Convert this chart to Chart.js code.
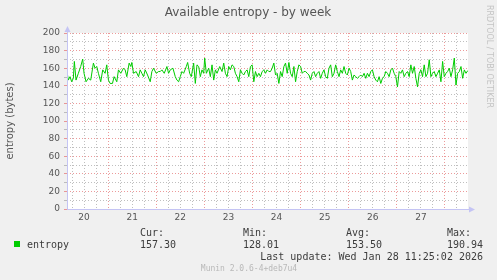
<!DOCTYPE html>
<html>
<head>
<meta charset="utf-8">
<script src="https://cdn.jsdelivr.net/npm/chart.js@4.4.1/dist/chart.umd.min.js"></script>
<style>
html,body{margin:0;padding:0;background:#f0f0f0;}
canvas{display:block;}
</style>
</head>
<body>
<canvas id="c" width="497" height="280"></canvas>
<script>
// ---- data (hours since Jan 20 00:00, bytes) ----
const hours = [
3.5,4.17,5.0,5.83,6.67,7.17,8.0,9.17,10.33,11.33,12.0,13.0,14.17,15.33,16.67,17.5,18.33,19.17,20.33,21.33,
22.5,23.33,24.17,25.0,26.17,27.0,28.33,29.17,30.33,31.67,32.5,33.33,34.5,35.33,35.83,36.67,38.0,39.17,40.0,40.83,
41.67,42.5,43.67,45.0,45.83,46.67,48.0,49.17,50.0,50.83,52.0,53.33,54.17,55.0,56.33,57.5,58.33,59.17,60.0,60.83,
61.67,63.0,63.67,64.67,65.5,66.67,67.5,68.33,69.17,70.0,70.83,71.67,72.17,73.0,74.17,75.0,75.83,76.67,77.5,78.33,
79.67,80.83,81.67,82.5,83.33,84.17,85.0,85.83,86.67,87.5,88.33,89.17,90.0,90.83,91.67,92.5,93.33,94.17,95.0,95.83,
96.67,97.5,98.33,99.17,100.0,100.83,101.67,102.5,103.33,104.17,105.0,105.83,106.67,107.5,108.33,109.17,110.0,110.83,111.67,112.5,
113.33,114.17,115.0,115.83,116.67,117.5,118.33,119.17,120.0,120.83,121.67,122.5,123.33,124.17,125.0,125.83,126.67,127.5,128.33,129.17,
130.0,130.83,131.67,132.5,133.33,134.17,135.0,135.83,136.67,137.5,138.33,139.17,140.0,140.83,141.67,142.5,143.33,144.17,145.0,145.83,
146.67,147.5,148.33,149.17,150.0,150.83,151.67,152.5,153.33,154.17,155.0,155.83,156.67,157.5,158.33,159.17,160.0,160.83,161.67,162.5,
163.33,164.17,165.0,165.83,166.67,167.5,168.33,169.17,170.0,170.83,171.67,172.5,173.33,174.17,175.0,175.83,176.67,177.5,178.33,179.17,
180.0,180.83,181.67,182.5,183.33,184.17,185.0,185.83,186.67,187.5,188.33,189.17,190.0,190.83,191.67,192.5,193.33,194.17,195.0,195.83,
196.67,197.5,198.33,199.17,200.0,200.83,201.67,202.5,203.4
];
const entropy = [
156.2,146.5,150.4,144.6,148.5,167.7,146.5,154.2,161.9,170.4,154.2,144.6,148.5,146.5,165.8,160.0,161.9,154.2,144.6,158.1,
154.2,163.8,146.5,142.7,142.7,150.4,144.6,158.1,154.2,160.0,158.1,150.4,165.8,161.9,166.5,154.2,156.2,150.4,158.1,154.2,
150.4,158.1,152.3,144.6,156.2,160.0,154.2,156.2,156.2,158.1,154.2,161.9,154.2,158.1,160.0,150.4,146.5,144.6,150.4,156.2,
154.2,161.9,166.5,154.2,150.4,165.8,142.7,163.8,161.9,150.4,158.1,154.2,171.5,154.2,160.0,150.4,163.8,146.5,158.1,154.2,
161.9,156.2,165.8,154.2,150.4,161.9,158.1,163.8,161.9,154.2,150.4,144.6,158.1,154.2,152.3,156.2,158.1,150.4,161.9,163.8,
144.6,156.2,150.4,154.2,150.4,156.2,158.1,154.2,158.1,156.2,156.2,160.0,165.8,152.3,154.2,142.7,156.2,150.4,161.9,165.8,
154.2,166.5,154.2,150.4,161.9,144.6,156.2,163.8,161.9,154.2,156.2,156.2,154.2,152.3,146.5,154.2,156.2,150.4,154.2,156.2,
148.5,154.2,158.1,150.4,148.5,160.0,163.8,150.4,154.2,163.8,156.2,150.4,158.1,154.2,161.9,154.2,152.3,160.0,156.2,146.5,
152.3,150.4,148.5,150.4,152.3,150.4,154.2,148.5,154.2,150.4,156.2,158.1,150.4,146.5,144.6,150.4,142.7,148.5,150.4,156.2,
154.2,150.4,158.1,160.0,154.2,150.4,138.8,156.2,154.2,158.1,150.4,154.2,156.2,150.4,163.8,154.2,161.9,148.5,138.8,154.2,
158.1,150.4,163.8,150.4,154.2,169.6,150.4,154.2,156.2,150.4,154.2,158.1,144.6,167.7,150.4,154.2,156.2,160.0,150.4,158.1,
171.5,140.8,154.2,156.2,161.9,148.5,158.1,154.2,157.3
];
const dayLabels = ['20','21','22','23','24','25','26','27'];
const yTickLabels = ['0','20','40','60','80','100','120','140','160','180','200'];
const legendStats = { cur: '157.30', min: '128.01', avg: '153.50', max: '190.94' };
const titleText = 'Available entropy - by week';
const yAxisTitle = 'entropy (bytes)';
const lastUpdate = 'Last update: Wed Jan 28 11:25:02 2026';
const footer = 'Munin 2.0.6-4+deb7u4';
const sideText = 'RRDTOOL / TOBI OETIKER';

const GREEN = '#00cc00';
const RED_GRID = 'rgba(230,120,120,0.75)';
const GRAY_GRID = 'rgba(170,170,170,0.75)';
const AXIS = '#c4c4f4';
const TEXT = '#555555';

const points = hours.map((h, i) => ({ x: h, y: entropy[i] }));

const decor = {
  id: 'decor',
  beforeDraw(chart) {
    const { ctx, chartArea: a } = chart;
    ctx.save();
    ctx.fillStyle = '#f0f0f0';
    ctx.fillRect(0, 0, chart.width, chart.height);
    ctx.fillStyle = '#ffffff';
    ctx.fillRect(a.left, a.top, a.right - a.left, a.bottom - a.top);
    ctx.restore();
  },
  afterDraw(chart) {
    const { ctx, chartArea: a } = chart;
    ctx.save();
    // axes with arrows
    ctx.strokeStyle = AXIS; ctx.fillStyle = AXIS; ctx.lineWidth = 1;
    ctx.beginPath();
    ctx.moveTo(a.left + 0.5, a.bottom + 0.5); ctx.lineTo(a.left + 0.5, a.top - 4);
    ctx.moveTo(a.left, a.bottom + 0.5); ctx.lineTo(a.right + 4, a.bottom + 0.5);
    ctx.stroke();
    ctx.beginPath();
    ctx.moveTo(a.left - 2.5, a.top - 1); ctx.lineTo(a.left + 0.5, a.top - 7); ctx.lineTo(a.left + 3.5, a.top - 1); ctx.closePath(); ctx.fill();
    ctx.beginPath();
    ctx.moveTo(a.right + 1, a.bottom - 2.5); ctx.lineTo(a.right + 7, a.bottom + 0.5); ctx.lineTo(a.right + 1, a.bottom + 3.5); ctx.closePath(); ctx.fill();

    // title
    ctx.fillStyle = TEXT;
    ctx.font = '12px "DejaVu Sans"';
    ctx.textAlign = 'center'; ctx.textBaseline = 'middle';
    ctx.fillText(titleText, 248, 13);

    // y-axis title
    ctx.save();
    ctx.translate(10, 121);
    ctx.rotate(-Math.PI / 2);
    ctx.font = '10px "DejaVu Sans"';
    ctx.fillText(yAxisTitle, 0, 0);
    ctx.restore();

    // side text
    ctx.save();
    ctx.translate(489.5, 5);
    ctx.rotate(Math.PI / 2);
    ctx.fillStyle = '#c4c4c4';
    ctx.font = '8px "DejaVu Sans"';
    ctx.textAlign = 'left'; ctx.textBaseline = 'middle';
    ctx.fillText(sideText, 0, 0);
    ctx.restore();

    // legend
    ctx.fillStyle = GREEN;
    ctx.fillRect(14, 241, 6, 6);
    ctx.fillStyle = '#3c3c3c';
    ctx.font = '10px "DejaVu Sans Mono"';
    ctx.textAlign = 'left'; ctx.textBaseline = 'middle';
    ctx.fillText('entropy', 27, 245);
    ctx.fillText('Cur:', 140, 233); ctx.fillText(legendStats.cur, 140, 245);
    ctx.fillText('Min:', 243, 233); ctx.fillText(legendStats.min, 243, 245);
    ctx.fillText('Avg:', 346, 233); ctx.fillText(legendStats.avg, 346, 245);
    ctx.fillText('Max:', 447, 233); ctx.fillText(legendStats.max, 447, 245);
    ctx.textAlign = 'right';
    ctx.fillText(lastUpdate, 483, 257);
    ctx.textAlign = 'center';
    ctx.fillStyle = '#b8b8b8';
    ctx.font = '8px "DejaVu Sans Mono"';
    ctx.fillText(footer, 249, 269);
    ctx.restore();
  }
};

new Chart(document.getElementById('c'), {
  type: 'line',
  data: {
    datasets: [{
      data: points,
      borderColor: GREEN,
      borderWidth: 1,
      pointRadius: 0,
      tension: 0,
      fill: false
    }]
  },
  options: {
    responsive: false,
    animation: false,
    devicePixelRatio: 1,
    layout: { padding: { top: 33, right: 29, left: 0, bottom: 0 } },
    plugins: { legend: { display: false }, tooltip: { enabled: false }, title: { display: false } },
    scales: {
      x: {
        type: 'linear',
        min: 3.5,
        max: 203.5,
        afterFit(s) { s.height = 71; s.paddingLeft = 0; s.paddingRight = 0; },
        afterBuildTicks(s) {
          const t = [];
          for (let v = 6; v <= 198; v += 6) t.push({ value: v });
          s.ticks = t;
        },
        border: { display: false, dash: [1, 2] },
        grid: {
          color: c => (c.tick && c.tick.value % 24 === 0) ? RED_GRID : GRAY_GRID,
          lineWidth: 1,
          drawTicks: false
        },
        ticks: {
          autoSkip: false,
          maxRotation: 0,
          padding: 3,
          color: TEXT,
          font: { family: 'DejaVu Sans', size: 9 },
          callback: v => (v % 24 === 12) ? dayLabels[(v - 12) / 24] : ''
        }
      },
      y: {
        min: 0,
        max: 200,
        afterFit(s) { s.width = 67; },
        border: { display: false, dash: [1, 2] },
        grid: {
          color: c => (c.tick && c.tick.value % 20 === 0) ? RED_GRID : GRAY_GRID,
          lineWidth: 1,
          tickLength: 3
        },
        ticks: {
          stepSize: 10,
          autoSkip: false,
          padding: 4,
          color: TEXT,
          font: { family: 'DejaVu Sans', size: 9 },
          callback: v => (v % 20 === 0) ? yTickLabels[v / 20] : ''
        }
      }
    }
  },
  plugins: [decor]
});
</script>
</body>
</html>
